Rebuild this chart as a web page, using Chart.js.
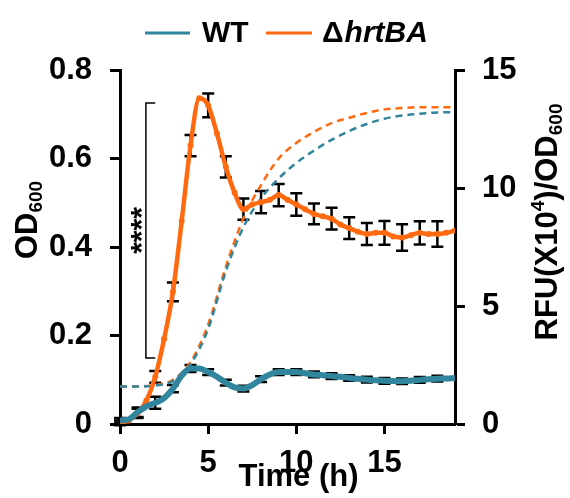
<!DOCTYPE html>
<html>
<head>
<meta charset="utf-8">
<script src="https://cdn.jsdelivr.net/npm/chart.js@4.4.0/dist/chart.umd.min.js"></script>
<style>
  html, body { margin: 0; padding: 0; background: #fff; }
  #wrap { position: relative; width: 570px; height: 498px; }
</style>
</head>
<body>
<div id="wrap"><canvas id="myChart" width="570" height="498"></canvas></div>
<script>
// time points (h) for the fluorescence curves
const times = [0, 0.5, 1, 1.5, 2, 2.5, 3, 3.5, 4, 4.5, 5, 5.5, 6, 6.5, 7, 7.5, 8, 8.5, 9, 9.5,
  10, 10.5, 11, 11.5, 12, 12.5, 13, 13.5, 14, 14.5, 15, 15.5, 16, 16.5, 17, 17.5, 18, 18.5, 19];
// RFU(x10^4)/OD600
const wtRfu = [0.15, 0.2, 0.5, 0.75, 0.9, 1.1, 1.5, 2.05, 2.35, 2.35, 2.2, 2.0, 1.75, 1.55, 1.5, 1.65,
  1.9, 2.1, 2.2, 2.2, 2.2, 2.15, 2.1, 2.07, 2.03, 2.0, 1.95, 1.92, 1.88, 1.85, 1.83, 1.82, 1.81,
  1.83, 1.87, 1.9, 1.92, 1.93, 1.95];
const mutRfu = [0.05, 0.15, 0.45, 1.0, 2.0, 3.6, 5.6, 8.6, 11.8, 13.8, 13.5, 12.3, 10.9, 9.8, 9.1, 9.3,
  9.4, 9.5, 9.7, 9.5, 9.3, 9.1, 8.9, 8.8, 8.7, 8.45, 8.3, 8.15, 8.05, 8.1, 8.1, 7.95, 7.9,
  8.0, 8.1, 8.05, 8.05, 8.1, 8.2];

// hourly OD600 growth curves
const hours = [0, 1, 2, 3, 4, 5, 6, 7, 8, 9, 10, 11, 12, 13, 14, 15, 16, 17, 18, 19];
const wtOd = [0.085, 0.085, 0.087, 0.097, 0.135, 0.215, 0.345, 0.445, 0.51, 0.555, 0.59, 0.618,
  0.642, 0.662, 0.678, 0.69, 0.697, 0.701, 0.704, 0.705];
const mutOd = [0.085, 0.085, 0.088, 0.1, 0.14, 0.225, 0.355, 0.465, 0.54, 0.6, 0.635, 0.66,
  0.68, 0.692, 0.703, 0.711, 0.714, 0.716, 0.716, 0.716];

// error bars (hourly, on the RFU curves)
const errHours = [0, 1, 2, 3, 4, 5, 6, 7, 8, 9, 10, 11, 12, 13, 14, 15, 16, 17, 18];
const wtErr = [0.1, 0.2, 0.25, 0.15, 0.15, 0.12, 0.12, 0.12, 0.12, 0.12, 0.12, 0.12, 0.12, 0.12,
  0.12, 0.12, 0.12, 0.12, 0.12];
const mutErr = [0.1, 0.2, 0.25, 0.4, 0.45, 0.5, 0.45, 0.45, 0.47, 0.47, 0.48, 0.44, 0.46, 0.46,
  0.47, 0.5, 0.56, 0.49, 0.54];

const xTicks = [0, 5, 10, 15];
const odTicks = [0, 0.2, 0.4, 0.6, 0.8];
const rfuTicks = [0, 5, 10, 15];

const BLUE = '#31859c';
const ORANGE = '#ff6a10';
const FONT = "'Liberation Sans', Arial, sans-serif";

const pts = (xs, ys) => xs.map((x, i) => ({ x: x, y: ys[i] }));
const valueAt = (ys, t) => ys[times.indexOf(t)];

function drawRich(ctx, parts, x, y, rotate) {
  ctx.save();
  ctx.translate(x, y);
  if (rotate) ctx.rotate(-Math.PI / 2);
  let total = 0;
  parts.forEach(p => {
    ctx.font = (p.style || '') + ' bold ' + p.size + 'px ' + FONT;
    p.w = ctx.measureText(p.t).width;
    total += p.w;
  });
  let cx = -total / 2;
  ctx.fillStyle = '#000';
  ctx.textBaseline = 'alphabetic';
  ctx.textAlign = 'left';
  parts.forEach(p => {
    ctx.font = (p.style || '') + ' bold ' + p.size + 'px ' + FONT;
    ctx.fillText(p.t, cx, p.dy || 0);
    cx += p.w;
  });
  ctx.restore();
}

const decor = {
  id: 'decor',
  beforeDatasetsDraw(chart) {
    const { ctx, scales } = chart;
    const x = scales.x, y2 = scales.y2;
    ctx.save();
    ctx.strokeStyle = '#000';
    ctx.lineWidth = 2.5;
    const bars = (vals, errs) => {
      errHours.forEach((h, i) => {
        const c = valueAt(vals, h);
        const px = x.getPixelForValue(h);
        const top = y2.getPixelForValue(c + errs[i]);
        const bot = y2.getPixelForValue(c - errs[i]);
        ctx.beginPath();
        ctx.moveTo(px, top); ctx.lineTo(px, bot);
        ctx.moveTo(px - 6, top); ctx.lineTo(px + 6, top);
        ctx.moveTo(px - 6, bot); ctx.lineTo(px + 6, bot);
        ctx.stroke();
      });
    };
    bars(mutRfu, mutErr);
    bars(wtRfu, wtErr);
    ctx.restore();
  },
  afterDraw(chart) {
    const { ctx, scales, chartArea } = chart;
    const x = scales.x, y2 = scales.y2;

    // significance bracket
    const bx = x.getPixelForValue(1.47), tx = x.getPixelForValue(2.0);
    const bt = y2.getPixelForValue(13.6), bb = y2.getPixelForValue(2.8);
    ctx.save();
    ctx.strokeStyle = '#000';
    ctx.lineWidth = 1.5;
    ctx.beginPath();
    ctx.moveTo(tx, bt); ctx.lineTo(bx, bt); ctx.lineTo(bx, bb); ctx.lineTo(tx, bb);
    ctx.stroke();
    ctx.translate(x.getPixelForValue(0.73) + 18, y2.getPixelForValue(8.2));
    ctx.rotate(-Math.PI / 2);
    ctx.font = 'bold 30px ' + FONT;
    ctx.fillStyle = '#000';
    ctx.textAlign = 'center';
    ctx.fillText('****', 0, 0);
    ctx.restore();

    // x tick labels
    ctx.save();
    ctx.fillStyle = '#000';
    ctx.font = 'bold 31px ' + FONT;
    ctx.textAlign = 'center';
    ctx.textBaseline = 'alphabetic';
    xTicks.forEach(v => ctx.fillText(String(v), x.getPixelForValue(v), chartArea.bottom + 48));
    ctx.restore();

    // axis titles
    drawRich(ctx, [{ t: 'OD', size: 31 }, { t: '600', size: 19, dy: 5 }], 37, 220, true);
    drawRich(ctx, [{ t: 'RFU(X10', size: 31 }, { t: '4', size: 19, dy: -13 }, { t: ')/OD', size: 31 },
      { t: '600', size: 19, dy: 5 }], 557, 222, true);
    drawRich(ctx, [{ t: 'Time (h)', size: 31 }], (chartArea.left + chartArea.right) / 2 + 11, 486, false);

    // legend
    ctx.save();
    ctx.lineWidth = 3;
    ctx.strokeStyle = BLUE;
    ctx.beginPath(); ctx.moveTo(145, 33); ctx.lineTo(190, 33); ctx.stroke();
    ctx.strokeStyle = ORANGE;
    ctx.beginPath(); ctx.moveTo(266, 33); ctx.lineTo(312, 33); ctx.stroke();
    ctx.fillStyle = '#000';
    ctx.textBaseline = 'alphabetic';
    ctx.font = 'bold 30px ' + FONT;
    ctx.fillText('WT', 202, 42);
    ctx.fillText('\u0394', 322, 42);
    const dw = ctx.measureText('\u0394').width;
    ctx.font = 'italic bold 30px ' + FONT;
    ctx.fillText('hrtBA', 322 + dw + 1, 42);
    ctx.restore();
  }
};

const axisStyle = {
  border: { display: true, color: '#000', width: 3 },
  grid: { display: true, drawOnChartArea: false, drawTicks: true, tickLength: 10, tickWidth: 3, tickColor: '#000' },
  title: { display: false }
};

const ctx = document.getElementById('myChart');
const myChart = new Chart(ctx, {
  type: 'line',
  data: {
    datasets: [
      { label: 'WT', data: pts(times, wtRfu), yAxisID: 'y2', borderColor: BLUE, backgroundColor: BLUE,
        borderWidth: 6, pointRadius: 0, cubicInterpolationMode: 'monotone', order: 1 },
      { label: 'ΔhrtBA', data: pts(times, mutRfu), yAxisID: 'y2', borderColor: ORANGE, backgroundColor: ORANGE,
        borderWidth: 4.5, pointRadius: 3, pointBorderWidth: 0, cubicInterpolationMode: 'monotone', order: 2 },
      { label: 'WT OD', data: pts(hours, wtOd), yAxisID: 'y', borderColor: BLUE, borderWidth: 2.5,
        borderDash: [7, 5], pointRadius: 0, cubicInterpolationMode: 'monotone', order: 3 },
      { label: 'ΔhrtBA OD', data: pts(hours, mutOd), yAxisID: 'y', borderColor: ORANGE, borderWidth: 2.5,
        borderDash: [7, 5], pointRadius: 0, cubicInterpolationMode: 'monotone', order: 4 }
    ]
  },
  options: {
    responsive: false,
    animation: false,
    devicePixelRatio: 1,
    layout: { padding: { left: 0, right: 0, top: 70, bottom: 0 } },
    plugins: { legend: { display: false }, tooltip: { enabled: false } },
    scales: {
      x: Object.assign({}, axisStyle, {
        type: 'linear', min: 0, max: 19,
        ticks: { display: false },
        afterBuildTicks: s => { s.ticks = xTicks.map(v => ({ value: v })); },
        afterFit: s => { s.height = 74; }
      }),
      y: Object.assign({}, axisStyle, {
        position: 'left', min: 0, max: 0.8,
        ticks: { color: '#000', font: { family: FONT, size: 31, weight: 'bold' }, padding: 18, autoSkip: false },
        afterBuildTicks: s => { s.ticks = odTicks.map(v => ({ value: v })); },
        afterFit: s => { s.width = 120; }
      }),
      y2: Object.assign({}, axisStyle, {
        position: 'right', min: 0, max: 15,
        ticks: { color: '#000', font: { family: FONT, size: 31, weight: 'bold' }, padding: 17, autoSkip: false },
        afterBuildTicks: s => { s.ticks = rfuTicks.map(v => ({ value: v })); },
        afterFit: s => { s.width = 115; }
      })
    }
  },
  plugins: [decor]
});
</script>
</body>
</html>
